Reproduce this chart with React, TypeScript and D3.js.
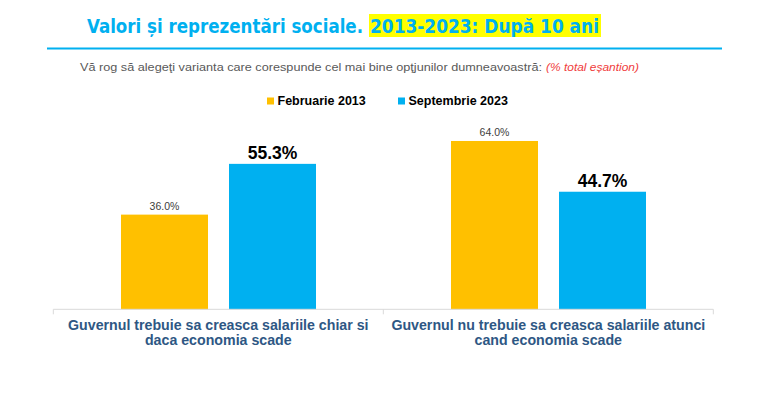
import React, { useEffect, useRef } from "react"
import * as d3 from "d3"

const categories: string[][] = [
  ["Guvernul trebuie sa creasca salariile chiar si", "daca economia scade"],
  ["Guvernul nu trebuie sa creasca salariile atunci", "cand economia scade"],
]
const seriesNames = ["Februarie 2013", "Septembrie 2023"]
const values2013 = [36.0, 64.0]
const values2023 = [55.3, 44.7]

const colors = ["#FFC000", "#00B0F0"]

export default function App() {
  const svgRef = useRef<SVGSVGElement>(null)

  useEffect(() => {
    if (!svgRef.current) return
    const svg = d3.select(svgRef.current)
    svg.selectAll("*").remove()

    const W = 777
    const H = 393
    svg.attr("width", W).attr("height", H)

    // Title
    const title = svg.append("g")
    title
      .append("rect")
      .attr("x", 369)
      .attr("y", 14)
      .attr("width", 232)
      .attr("height", 23)
      .attr("fill", "#FFFF00")
    title
      .append("text")
      .attr("x", 87)
      .attr("y", 33)
      .attr("font-family", "'DejaVu Sans Condensed', 'DejaVu Sans', sans-serif")
      .attr("font-weight", "bold")
      .attr("font-size", 19)
      .attr("fill", "#00B0F0")
      .attr("textLength", 276)
      .attr("lengthAdjust", "spacingAndGlyphs")
      .text("Valori și reprezentări sociale.")
    title
      .append("text")
      .attr("x", 370)
      .attr("y", 33)
      .attr("font-family", "'DejaVu Sans Condensed', 'DejaVu Sans', sans-serif")
      .attr("font-weight", "bold")
      .attr("font-size", 19)
      .attr("fill", "#00B0F0")
      .attr("textLength", 229)
      .attr("lengthAdjust", "spacingAndGlyphs")
      .text("2013-2023: După 10 ani")

    svg
      .append("line")
      .attr("x1", 47)
      .attr("x2", 722)
      .attr("y1", 48.5)
      .attr("y2", 48.5)
      .attr("stroke", "#00B0F0")
      .attr("stroke-width", 2)

    // Subtitle
    svg
      .append("text")
      .attr("x", 80)
      .attr("y", 71)
      .attr("font-family", "'Liberation Sans', Arial, sans-serif")
      .attr("font-size", 11)
      .attr("fill", "#595959")
      .attr("textLength", 462)
      .attr("lengthAdjust", "spacingAndGlyphs")
      .text("Vă rog să alegeţi varianta care corespunde cel mai bine opţjunilor dumneavoastră:")
    svg
      .append("text")
      .attr("x", 546)
      .attr("y", 71)
      .attr("font-family", "'Liberation Sans', Arial, sans-serif")
      .attr("font-style", "italic")
      .attr("font-size", 10.5)
      .attr("fill", "#F03C3C")
      .attr("textLength", 93)
      .attr("lengthAdjust", "spacingAndGlyphs")
      .text("(% total eșantion)")

    // Legend
    const legendX = [267, 398]
    seriesNames.forEach((name, i) => {
      svg
        .append("rect")
        .attr("x", legendX[i])
        .attr("y", 97.5)
        .attr("width", 7)
        .attr("height", 7)
        .attr("fill", colors[i])
      svg
        .append("text")
        .attr("x", legendX[i] + 10.5)
        .attr("y", 105)
        .attr("font-family", "'Liberation Sans', Arial, sans-serif")
        .attr("font-weight", "bold")
        .attr("font-size", 12.5)
        .attr("fill", "#000")
        .text(name)
    })

    // Scales
    const catKeys = categories.map(c => c.join(" "))
    const x0 = d3.scaleBand().domain(catKeys).range([53.3, 713.3]).padding(0)
    const x1 = d3
      .scaleBand()
      .domain(seriesNames)
      .range([67.7, 262.7])
      .paddingInner(21 / 108)
      .paddingOuter(0)
    const y = d3.scaleLinear().domain([0, 100]).range([309.3, 46.3])

    const rows = catKeys.map((k, i) => ({
      key: k,
      vals: [
        { s: seriesNames[0], v: values2013[i], idx: 0 },
        { s: seriesNames[1], v: values2023[i], idx: 1 },
      ],
    }))

    const groups = svg
      .selectAll(".grp")
      .data(rows)
      .enter()
      .append("g")
      .attr("class", "grp")
      .attr("transform", d => `translate(${x0(d.key)},0)`)

    groups
      .selectAll("rect")
      .data(d => d.vals)
      .enter()
      .append("rect")
      .attr("x", d => x1(d.s) || 0)
      .attr("y", d => y(d.v))
      .attr("width", x1.bandwidth())
      .attr("height", d => y(0) - y(d.v))
      .attr("fill", d => colors[d.idx])

    // value labels: 2013 small, 2023 large bold
    groups
      .selectAll(".val")
      .data(d => d.vals)
      .enter()
      .append("text")
      .attr("class", "val")
      .attr("x", d => (x1(d.s) || 0) + x1.bandwidth() / 2)
      .attr("y", d => y(d.v) - 5)
      .attr("text-anchor", "middle")
      .attr("font-family", "'Liberation Sans', Arial, sans-serif")
      .attr("font-size", d => (d.idx === 0 ? 10.5 : 17.5))
      .attr("font-weight", d => (d.idx === 0 ? "normal" : "bold"))
      .attr("fill", d => (d.idx === 0 ? "#404040" : "#000"))
      .text(d => `${d.v.toFixed(1)}%`)

    // Axis
    const [r0, r1] = x0.range()
    const tickXs = [...catKeys.map(k => x0(k) || 0), r1]
    svg
      .append("line")
      .attr("x1", r0)
      .attr("x2", r1)
      .attr("y1", y(0))
      .attr("y2", y(0))
      .attr("stroke", "#D9D9D9")
      .attr("stroke-width", 1)
    svg
      .selectAll(".tick")
      .data(tickXs)
      .enter()
      .append("line")
      .attr("class", "tick")
      .attr("x1", d => d)
      .attr("x2", d => d)
      .attr("y1", y(0))
      .attr("y2", y(0) + 5)
      .attr("stroke", "#D9D9D9")

    // Category labels
    const lbl = svg
      .selectAll(".cat")
      .data(categories)
      .enter()
      .append("text")
      .attr("class", "cat")
      .attr("text-anchor", "middle")
      .attr("font-family", "'Liberation Sans', Arial, sans-serif")
      .attr("font-weight", "bold")
      .attr("font-size", 14.2)
      .attr("fill", "#2E5784")
    lbl
      .selectAll("tspan")
      .data((d, i) => d.map(line => ({ line, key: catKeys[i] })))
      .enter()
      .append("tspan")
      .attr("x", d => (x0(d.key) || 0) + x0.bandwidth() / 2)
      .attr("y", (d, i) => 329.5 + i * 15.5)
      .text(d => d.line)
  }, [])

  return (
    <div style={{ position: "absolute", left: 0, top: 0, background: "#fff" }}>
      <svg ref={svgRef}></svg>
    </div>
  )
}
